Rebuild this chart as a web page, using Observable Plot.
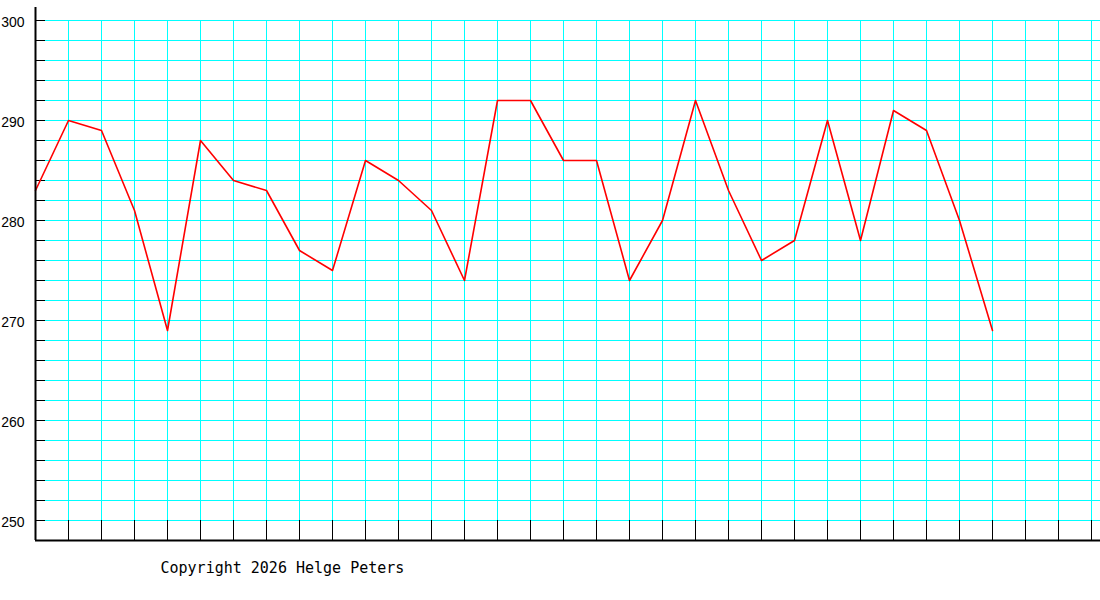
<!DOCTYPE html>
<html><head><meta charset="utf-8">
<script src="https://cdn.jsdelivr.net/npm/d3@7"></script>
<script src="https://cdn.jsdelivr.net/npm/@observablehq/plot@0.6"></script>
<style>body{margin:0;background:#fff}#chart svg{display:block;background:#fff}</style>
</head><body><div id="chart"></div>
<script>
const days = [1,2,3,4,5,6,7,8,9,10,11,12,13,14,15,16,17,18,19,20,21,22,23,24,25,26,27,28,29,30];
const values = [283,290,289,281,269,288,284,283,277,275,286,284,281,274,292,292,286,286,274,280,292,283,276,278,290,278,291,289,280,269];
const xGridTicks = [2,3,4,5,6,7,8,9,10,11,12,13,14,15,16,17,18,19,20,21,22,23,24,25,26,27,28,29,30,31,32,33];
const yGridTicks = [250,252,254,256,258,260,262,264,266,268,270,272,274,276,278,280,282,284,286,288,290,292,294,296,298,300];
const yLabels = [250,260,270,280,290,300];
const copyright = "Copyright 2026 Helge Peters";

const rows = days.map((d, i) => ({day: d, value: values[i]}));

const chart = Plot.plot({
  width: 1100,
  height: 600,
  marginLeft: 35,
  marginRight: 0,
  marginTop: 7,
  marginBottom: 60,
  x: {domain: [1, 1 + 1065 / 33], axis: null},
  y: {domain: [248, 301.3], axis: null},
  marks: [
    Plot.ruleY(yGridTicks, {y: d => d, stroke: "#00ffff", strokeWidth: 1, insetLeft: 10}),
    Plot.ruleX(xGridTicks, {x: d => d, y1: 250, y2: 300, stroke: "#00ffff", strokeWidth: 1}),
    Plot.ruleY(yGridTicks, {y: d => d, stroke: "black", strokeWidth: 1, insetRight: 1055}),
    Plot.ruleX(xGridTicks, {x: d => d, y1: 248, y2: 250, stroke: "black", strokeWidth: 1}),
    Plot.line(rows, {x: "day", y: "value", stroke: "#ff0000", strokeWidth: 1.6}),
    Plot.ruleX([1], {stroke: "black", strokeWidth: 2}),
    Plot.ruleY([248], {stroke: "black", strokeWidth: 2}),
    Plot.text(yLabels, {y: d => d, text: d => String(d), frameAnchor: "left", textAnchor: "end", dx: -11, dy: 2,
      fontFamily: "Liberation Sans", fontSize: 14, fill: "black"}),
    Plot.text([copyright], {text: d => d, frameAnchor: "bottom-left", textAnchor: "start", lineAnchor: "bottom",
      dx: 125, dy: 32.7, fontFamily: "DejaVu Sans Mono", fontWeight: "normal", fontSize: 15, fill: "black"})
  ]
});
document.getElementById("chart").append(chart);
</script>
</body></html>
